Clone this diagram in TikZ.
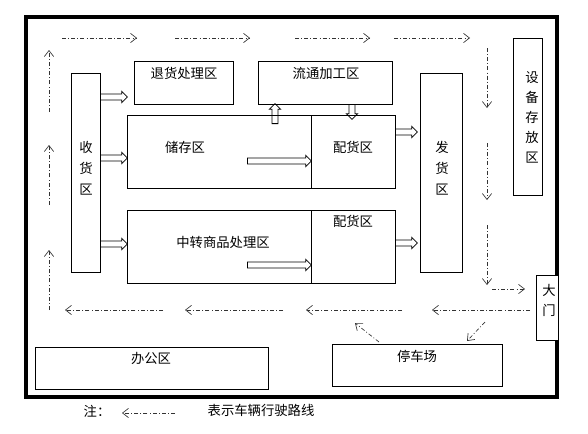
\documentclass[tikz,border=0pt]{standalone}
\usepackage{fontspec}
\setmainfont{Noto Sans CJK SC}
\usetikzlibrary{arrows.meta,shapes.arrows}

\begin{document}
\begin{tikzpicture}[x=0.75pt,y=-0.75pt,
	zone/.style 2 args={draw,line width=0.7pt,anchor=north west,inner sep=0pt,minimum width=#1*0.75pt,minimum height=#2*0.75pt},
	tag/.style={font=\fontsize{10}{12}\selectfont,inner sep=1pt},
	vtag/.style={align=center,inner sep=1pt,font=\fontsize{10}{#1}\selectfont},
	fat/.style={single arrow,draw,line width=0.6pt,inner sep=2pt,single arrow head extend=2pt,single arrow tip angle=90,minimum height=#1*0.75pt,anchor=tail},
	route/.style={line width=0.5pt,draw=black!80,dash pattern=on 3pt off 1.6pt on 0.7pt off 1.6pt,-{Straight Barb[length=4.5pt,width=7pt]}}]
			\useasboundingbox (0,0) rectangle (588,433);
			\draw[line width=2.4pt] (26,17) rectangle (557,397);
			% zones
			\node[zone={29}{199}] (shouhuo) at (71,73) {};
			\node[zone={99}{43}] (tuihuo) at (134,61) {};
			\node[zone={134}{43}] (liutong) at (258,61) {};
			\node[zone={184}{73}] (chucun) at (127,115) {};
			\node[zone={84}{73}] (peihuoA) at (311,115) {};
			\node[zone={184}{73}] (zhongzhuan) at (127,210) {};
			\node[zone={84}{73}] (peihuoB) at (311,210) {};
			\node[zone={42}{199}] (fahuo) at (420,73) {};
			\node[zone={29}{157}] (shebei) at (513,38) {};
			\node[zone={233}{42}] (bangong) at (35,347) {};
			\node[zone={170}{42}] (tingche) at (332,344) {};
			\node[zone={22}{65},fill=white] (damen) at (536,275) {};
			% labels
			\node[tag] (tuihuoT) at (184,73) {退货处理区};
			\node[tag] (liutongT) at (326,73) {流通加工区};
			\node[tag] (chucunT) at (185,147) {储存区};
			\node[tag] (peihuoAT) at (353,147) {配货区};
			\node[tag] (zhongzhuanT) at (223,242) {中转商品处理区};
			\node[tag] (peihuoBT) at (353,221) {配货区};
			\node[tag] (bangongT) at (151,358) {办公区};
			\node[tag] (tingcheT) at (417,356) {停车场};
			\node[vtag=15.8pt] (shouhuoT) at (86,168) {收\\货\\区};
			\node[vtag=15.8pt] (fahuoT) at (442,168) {发\\货\\区};
			\node[vtag=15pt] (shebeiT) at (532,117) {设\\备\\存\\放\\区};
			\node[vtag=15pt] (damenT) at (549,300) {大\\门};
			% hollow arrows between zones
			\node[fat=27] (a1) at (100,97) {};
			\node[fat=27] (a2) at (100,158) {};
			\node[fat=27] (a3) at (100,244) {};
			\node[fat=64] (a4) at (247,161) {};
			\node[fat=64] (a5) at (247,265) {};
			\node[fat=15,rotate=-90] (a6) at (352,104) {};
			\node[fat=20,rotate=90] (a7) at (275,124) {};
			\node[fat=22] (a8) at (395,132) {};
			\node[fat=22] (a9) at (395,243) {};
			% vehicle routes
			\draw[route] (62,38) -- (137,38);
			\draw[route] (175,38) -- (250,38);
			\draw[route] (295,38) -- (370,38);
			\draw[route] (394,38) -- (470,38);
			\draw[route] (487,48) -- (487,108);
			\draw[route] (487,143) -- (487,200);
			\draw[route] (487,225) -- (487,285);
			\draw[route] (492,289) -- (525,289);
			\draw[route] (530,310) -- (432,310);
			\draw[route] (402,310) -- (306,310);
			\draw[route] (283,310) -- (185,310);
			\draw[route] (163,310) -- (65,310);
			\draw[route] (485,322) -- (467,341);
			\draw[route] (379,342) -- (355,323);
			\draw[route] (49,310) -- (49,250);
			\draw[route] (49,205) -- (49,145);
			\draw[route] (49,112) -- (49,50);
			% legend
			\node[tag] (zhu) at (97,411) {注：};
			\draw[route] (175,413) -- (122,413);
			\node[tag] (zhuT) at (261,410) {表示车辆行驶路线};
		\end{tikzpicture}
\end{document}
